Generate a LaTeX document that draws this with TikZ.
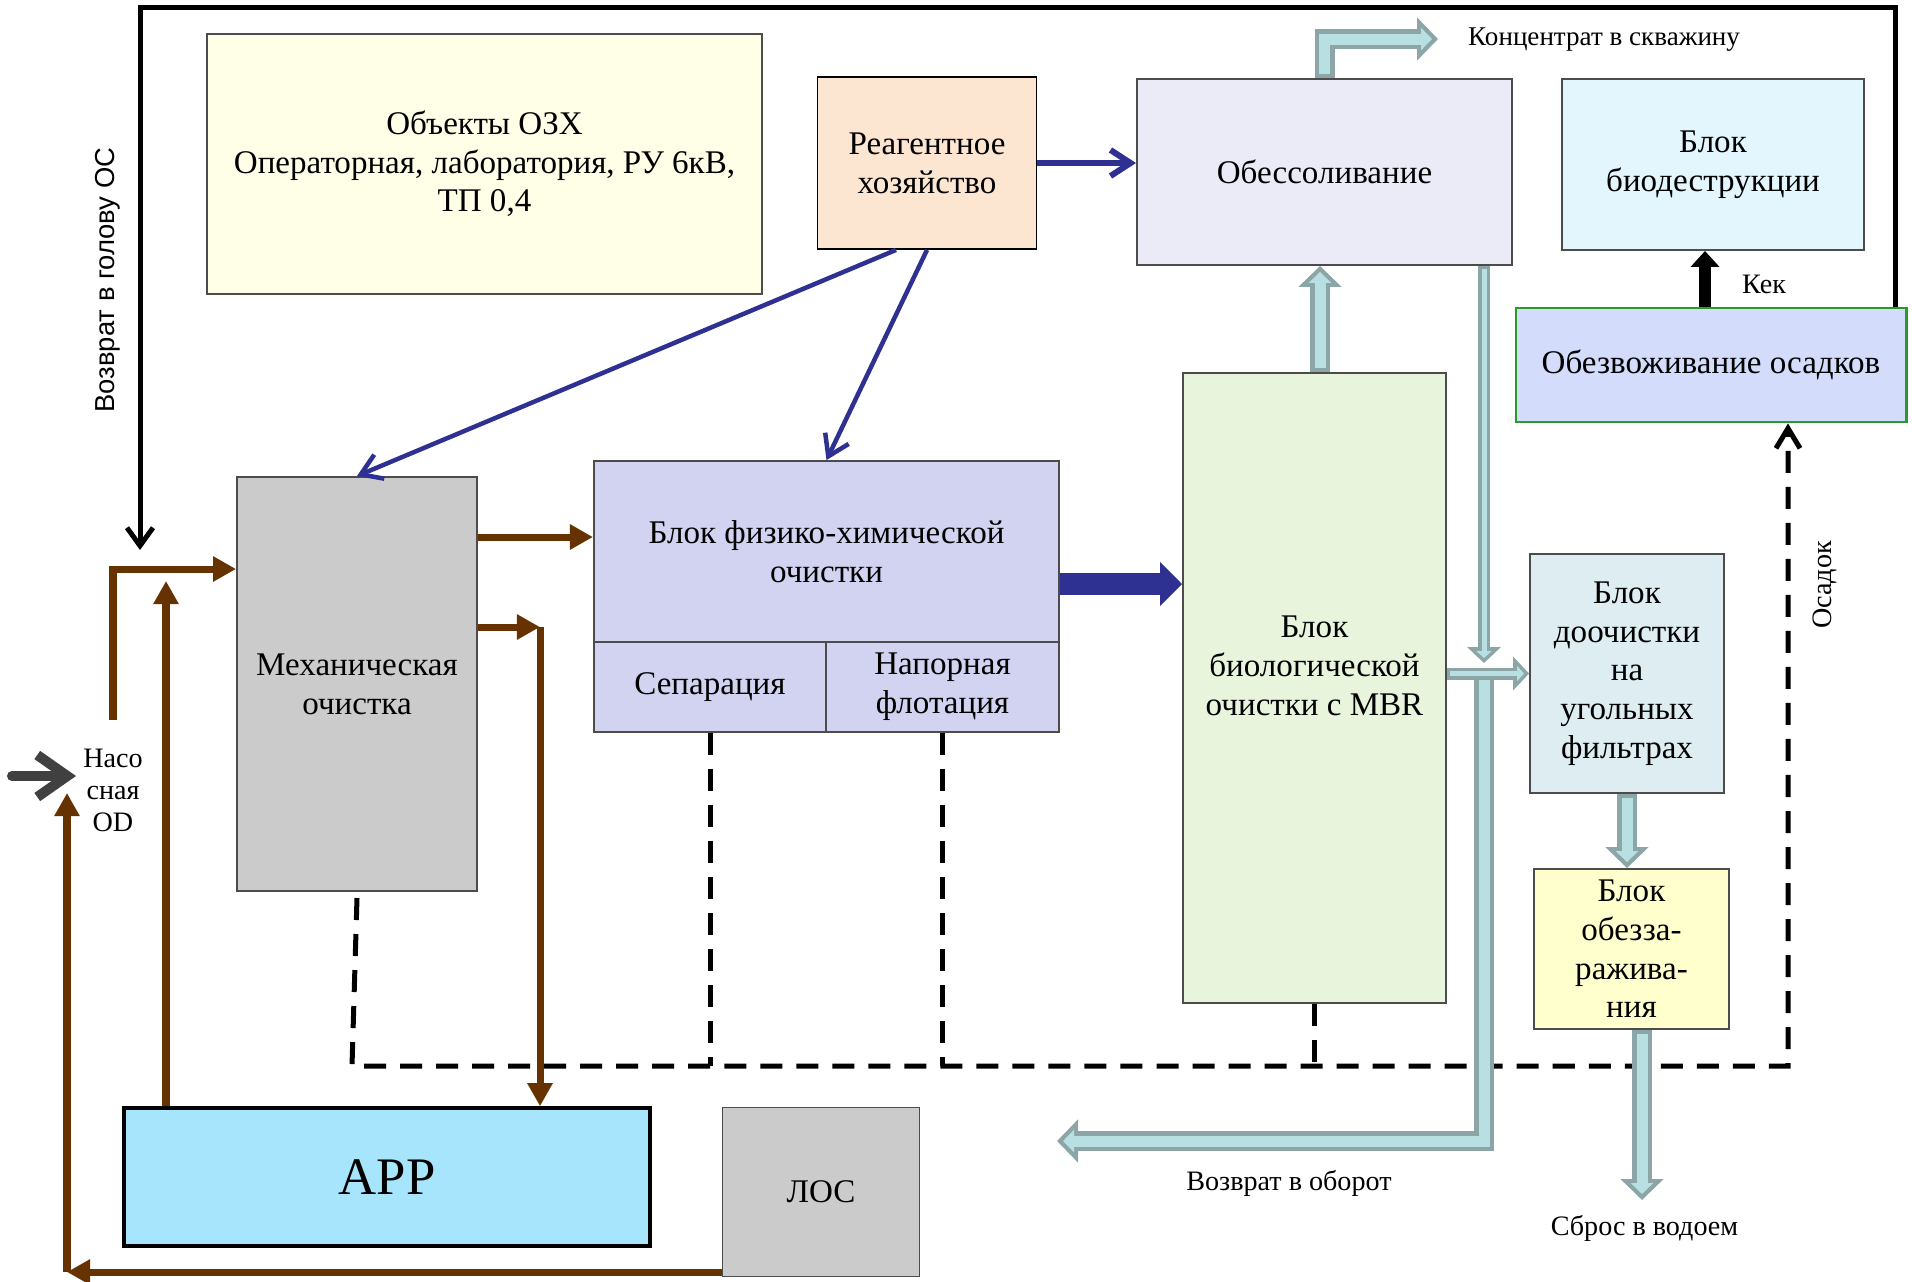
\documentclass[tikz,border=0pt]{standalone}
\usepackage{fontspec}
\setmainfont{Liberation Serif}
\setsansfont{Liberation Sans}
\usetikzlibrary{arrows.meta}

\definecolor{korichn}{HTML}{663300}
\definecolor{sinij}{HTML}{2E3192}
\definecolor{trubafon}{HTML}{B8DFE2}
\definecolor{trubakraj}{HTML}{8CA6A8}
\definecolor{ozxfon}{HTML}{FFFEE6}
\definecolor{reagfon}{HTML}{FDE6D1}
\definecolor{obesfon}{HTML}{EBEBF7}
\definecolor{biodfon}{HTML}{E4F6FD}
\definecolor{obezvfon}{HTML}{D3DCFA}
\definecolor{obezvkraj}{HTML}{2A9A2A}
\definecolor{mehfon}{HTML}{CBCBCB}
\definecolor{fxofon}{HTML}{D2D3F0}
\definecolor{mbrfon}{HTML}{E9F4DD}
\definecolor{doofon}{HTML}{DDEDF1}
\definecolor{obzrfon}{HTML}{FFFFCD}
\definecolor{arrfon}{HTML}{A6E5FB}

\newcommand{\blokfont}{\fontsize{9.4}{11}\selectfont}
\newcommand{\podpfont}{\fontsize{8}{9.1}\selectfont}

\tikzset{
  blok/.style={draw=black!70, line width=0.5pt, align=center, inner sep=0pt, font=\blokfont},
  podpis/.style={font=\podpfont, inner sep=1pt, align=center},
  chern/.style={line width=0.05cm, -{Straight Barb[length=0.18cm,width=0.26cm]}},
  korich/.style={draw=korichn, line width=0.07cm, -{Triangle[length=0.23cm,width=0.24cm]}},
  sin/.style={draw=sinij, line width=0.045cm, -{Straight Barb[length=0.2cm,width=0.26cm]}},
  tolst/.style={draw=sinij, line width=0.22cm, -{Triangle[length=0.22cm,width=0.43cm]}},
  vhodstr/.style={draw=black!75, line width=0.1cm, line cap=round, -{Straight Barb[length=0.3cm,width=0.42cm]}},
  kekstr/.style={line width=0.12cm, -{Triangle[length=0.16cm,width=0.28cm]}},
  shtrih/.style={line width=0.05cm, dash pattern=on 0.22cm off 0.14cm},
  osad/.style={shtrih, -{Straight Barb[length=0.2cm,width=0.24cm]}},
  truba/.style={draw=trubafon, line width=0.11cm, shorten <=0.04cm, shorten >=0.06cm,
    -{Triangle[length=0.11cm,width=0.22cm]},
    preaction={draw=trubakraj, line width=0.20cm, shorten <=0pt, shorten >=0pt,
      -{Triangle[length=0.21cm,width=0.42cm]}}},
  trubka/.style={draw=trubafon, line width=0.05cm, shorten <=0.035cm, shorten >=0.05cm,
    -{Triangle[length=0.07cm,width=0.15cm]},
    preaction={draw=trubakraj, line width=0.12cm, shorten <=0pt, shorten >=0pt,
      -{Triangle[length=0.16cm,width=0.33cm]}}},
}

\begin{document}
\begin{tikzpicture}[x=0.01cm, y=-0.01cm]
  \useasboundingbox (0,0) rectangle (1912,1281);

  % bloki
  \node[blok, fill=ozxfon, minimum width=5.55cm, minimum height=2.60cm] (ozx) at (484.5,164)
    {Объекты ОЗХ\\Операторная, лаборатория, РУ 6кВ,\\ТП 0,4};
  \node[blok, fill=reagfon, draw=black, minimum width=2.19cm, minimum height=1.72cm] (reag) at (927,163)
    {Реагентное\\хозяйство};
  \node[blok, fill=obesfon, minimum width=3.75cm, minimum height=1.86cm] (obes) at (1324.5,172) {Обессоливание};
  \node[blok, fill=biodfon, minimum width=3.02cm, minimum height=1.71cm] (biod) at (1713,164.5) {Блок\\биодеструкции};
  \node[blok, fill=obezvfon, draw=obezvkraj, line width=0.8pt, minimum width=3.90cm, minimum height=1.14cm] (obezv)
    at (1711,365) {Обезвоживание осадков};
  \node[blok, fill=mehfon, minimum width=2.40cm, minimum height=4.14cm] (meh) at (357,684) {Механическая\\очистка};
  \node[blok, fill=fxofon, minimum width=4.65cm, minimum height=1.81cm] (fxo) at (826.5,551.5)
    {Блок физико-химической\\очистки};
  \node[blok, fill=fxofon, minimum width=2.32cm, minimum height=0.90cm] (sep) at (710,687) {Сепарация};
  \node[blok, fill=fxofon, minimum width=2.33cm, minimum height=0.90cm] (flot) at (942.5,687) {Напорная\\флотация};
  \node[blok, fill=mbrfon, minimum width=2.63cm, minimum height=6.30cm] (mbr) at (1314.5,688) {};
  \node[font=\blokfont, align=center, inner sep=0pt] (mbrtxt) at (1314.5,666) {Блок\\биологической\\очистки с MBR};
  \node[blok, fill=doofon, minimum width=1.94cm, minimum height=2.39cm] (doo) at (1627,673.5)
    {Блок\\доочистки\\на\\угольных\\фильтрах};
  \node[blok, fill=obzrfon, minimum width=1.95cm, minimum height=1.60cm] (obzr) at (1631.5,949)
    {Блок\\обезза-\\ражива-\\ния};
  \node[blok, fill=arrfon, draw=black, line width=1pt, minimum width=5.26cm, minimum height=1.38cm,
    font=\fontsize{15}{17}\selectfont] (arr) at (387,1177) {АРР};
  \node[blok, fill=mehfon, minimum width=1.97cm, minimum height=1.69cm] (los) at (821,1192) {ЛОС};

  % podpisi
  \node[podpis, anchor=west, font=\fontsize{7.7}{9}\selectfont] (konc) at (1464,40) {Концентрат в скважину};
  \node[podpis] (vozob) at (1289,1183) {Возврат в оборот};
  \node[podpis] (sbros) at (1644.5,1228) {Сброс в водоем};
  \node[podpis] (kek) at (1764,284) {Кек};
  \node[podpis, rotate=90] (osadok) at (1825,585) {Осадок};
  \node[font=\sffamily\fontsize{7.8}{9}\selectfont, rotate=90] (vozgol) at (108,280) {Возврат в голову ОС};
  \node[podpis] (nasos) at (113,790) {Насо\\сная\\OD};

  % vozvrat v golovu
  \coordinate (ugol) at (1895,7);
  \coordinate (vozvrat) at (140,550);
  \draw[chern] (obezv.north -| ugol) -- (ugol) -- (ugol -| vozvrat) -- (vozvrat);

  % osadok (shtrihi)
  \coordinate (osL) at (352,1066);
  \coordinate (osR) at (1788,1066);
  \draw[osad] ([yshift=-0.06cm]meh.south) -- (osL) -- (osR) -- (osR |- obezv.south);
  \foreach \b in {sep,flot,mbr}
    \draw[shtrih] (\b.south) -- (\b.south |- osL);

  % korichnevye
  \coordinate (nasniz) at (113,720);
  \coordinate (nasverh) at (113,569);
  \draw[korich] (nasniz) -- (nasverh) -- (meh.west |- nasverh);
  \coordinate (arrverh) at (166,581);
  \draw[korich] (arr.north -| arrverh) -- (arrverh);
  \coordinate (m1) at (500,537);
  \draw[korich] (m1 -| meh.east) -- (m1 -| fxo.west);
  \coordinate (m2) at (500,627);
  \coordinate (m2ugol) at (540,627);
  \draw[korich] (m2 -| meh.east) -- (m2ugol);
  \draw[korich] (m2ugol) -- (m2ugol |- arr.north);
  \coordinate (losniz) at (67,1272);
  \coordinate (nasvhod) at (67,793);
  \draw[korich] (losniz -| los.west) -- (losniz);
  \draw[korich] (losniz) -- (nasvhod);

  % vhod
  \coordinate (vhod) at (12,776);
  \coordinate (vhodkon) at (76,776);
  \draw[vhodstr] (vhod) -- (vhodkon);

  % reagenty
  \draw[sin, line width=0.06cm] (reag.east) -- (reag.east -| obes.west);
  \draw[sin] ([xshift=-0.31cm]reag.south) -- (meh.north);
  \draw[sin] (reag.south) -- (fxo.north);
  \coordinate (fxvyh) at (1100,584);
  \draw[tolst] (fxvyh -| fxo.east) -- (fxvyh -| mbr.west);

  % truby
  \coordinate (pod) at (1320,0);
  \draw[truba] (pod |- mbr.north) -- (pod |- obes.south);
  \coordinate (konctip) at (1438,39);
  \draw[truba] (obes.north) |- (konctip);
  \coordinate (perek) at (1484,663);
  \coordinate (perekniz) at (1484,674);
  \coordinate (oborot) at (1057,1141);
  \draw[truba] (perekniz) |- (oborot);
  \draw[trubka] (obes.south -| perek) -- (perek);
  \draw[trubka] (mbr.east |- doo.west) -- (doo.west);
  \draw[truba] (doo.south) -- (doo.south |- obzr.north);
  \coordinate (sbrtip) at (1642,1200);
  \draw[truba] (sbrtip |- obzr.south) -- (sbrtip);

  % kek
  \coordinate (kekx) at (1705,0);
  \draw[kekstr] (kekx |- obezv.north) -- (kekx |- biod.south);
\end{tikzpicture}
\end{document}
